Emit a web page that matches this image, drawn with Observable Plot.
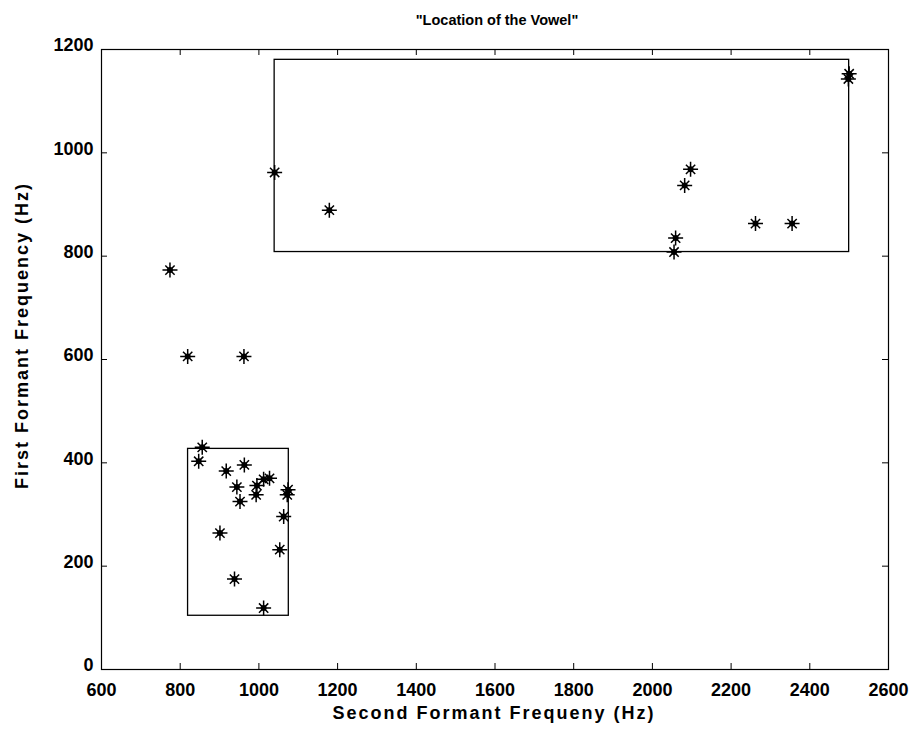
<!DOCTYPE html>
<html>
<head>
<meta charset="utf-8">
<script src="https://cdn.jsdelivr.net/npm/d3@7"></script>
<script src="https://cdn.jsdelivr.net/npm/@observablehq/plot@0.6"></script>
<style>
  html, body { margin: 0; padding: 0; background: #fff; }
  #chart { width: 917px; height: 735px; }
</style>
</head>
<body>
<div id="chart"></div>
<script>
// ---- data ----
const titleText = "\"Location of the Vowel\"";
const xLabel = "Second Formant Frequeny (Hz)";
const yLabel = "First Formant Frequency (Hz)";

const xTicks = [600, 800, 1000, 1200, 1400, 1600, 1800, 2000, 2200, 2400, 2600];
const yTicks = [0, 200, 400, 600, 800, 1000, 1200];

// second formant (x) and first formant (y) of each measured vowel
const f2 = [1040, 1179, 2055, 2059, 2082, 2097, 2262, 2355, 2500, 2498,
            774, 819, 962,
            856, 847, 917, 963, 944, 952, 995, 993, 1012, 1027, 1074, 1072, 1063, 1053, 901, 938, 1012];
const f1 = [962, 889, 808, 835, 937, 968, 863, 863, 1153, 1143,
            773, 606, 606,
            430, 403, 384, 396, 353, 325, 356, 338, 368, 370, 348, 338, 296, 232, 264, 175, 119];

// vowel region boxes
const boxF2Low  = [1040, 820];
const boxF2High = [2500, 1076];
const boxF1Low  = [808, 104];
const boxF1High = [1180, 427];

const points = f2.map((x, i) => ({x, y: f1[i]}));
const boxes = boxF2Low.map((x1, i) => ({x1, x2: boxF2High[i], y1: boxF1Low[i], y2: boxF1High[i]}));

// 8-armed MATLAB-style asterisk
const star8 = {
  draw(context, size) {
    const r = Math.sqrt(size / Math.PI);
    const d = r * 0.62;
    context.moveTo(-r, 0); context.lineTo(r, 0);
    context.moveTo(0, -r); context.lineTo(0, r);
    context.moveTo(-d, -d); context.lineTo(d, d);
    context.moveTo(-d, d); context.lineTo(d, -d);
  }
};

const W = 917, H = 735;
const mL = 101, mR = 29, mT = 49, mB = 66;
const plotW = W - mL - mR, plotH = H - mT - mB;
const tickLen = 6;
const font = "'Liberation Sans', Arial, Helvetica, sans-serif";

const chart = Plot.plot({
  width: W,
  height: H,
  marginLeft: mL,
  marginRight: mR,
  marginTop: mT,
  marginBottom: mB,
  style: {fontFamily: font, color: "#000", background: "#fff"},
  x: {domain: [600, 2600], nice: false},
  y: {domain: [0, 1200], nice: false},
  marks: [
    Plot.frame({stroke: "#000", strokeWidth: 1.2}),
    // inward ticks on all four sides
    Plot.tickX(xTicks, {x: d => d, insetTop: plotH - tickLen, stroke: "#000"}),
    Plot.tickX(xTicks, {x: d => d, insetBottom: plotH - tickLen, stroke: "#000"}),
    Plot.tickY(yTicks, {y: d => d, insetRight: plotW - tickLen, stroke: "#000"}),
    Plot.tickY(yTicks, {y: d => d, insetLeft: plotW - tickLen, stroke: "#000"}),
    Plot.axisX({ticks: xTicks, tickSize: 0, tickPadding: 14, fontSize: 18, fontWeight: "bold", label: null, tickFormat: d => String(d)}),
    Plot.axisY({ticks: yTicks, tickSize: 0, tickPadding: 8, fontSize: 18, fontWeight: "bold", dy: -4, label: null, tickFormat: d => String(d)}),
    // vowel region boxes
    Plot.rect(boxes, {x1: "x1", x2: "x2", y1: "y1", y2: "y2", fill: "none", stroke: "#000", strokeWidth: 1.3}),
    // data points
    Plot.dot(points, {x: "x", y: "y", r: 7.5, symbol: star8, stroke: "#000", strokeWidth: 1.5, fill: "none"}),
    Plot.dot(points, {x: "x", y: "y", r: 3, fill: "#000", stroke: "none"}),
    // title and axis labels
    Plot.text([titleText], {text: d => d, frameAnchor: "top", dy: -35, dx: 2, fontSize: 14.5, fontWeight: "bold"}),
    Plot.text([xLabel], {text: d => d, frameAnchor: "bottom", dy: 49, dx: -1, fontSize: 18, fontWeight: "bold"}),
    Plot.text([yLabel], {text: d => d, frameAnchor: "left", textAnchor: "middle", dx: -79, dy: -24, rotate: -90, fontSize: 18, fontWeight: "bold"})
  ]
});

d3.select(chart).selectAll("text").filter(function() {
  const t = this.textContent;
  return t === xLabel || t === yLabel;
}).style("letter-spacing", "2px");
document.getElementById("chart").appendChild(chart);
</script>
</body>
</html>
